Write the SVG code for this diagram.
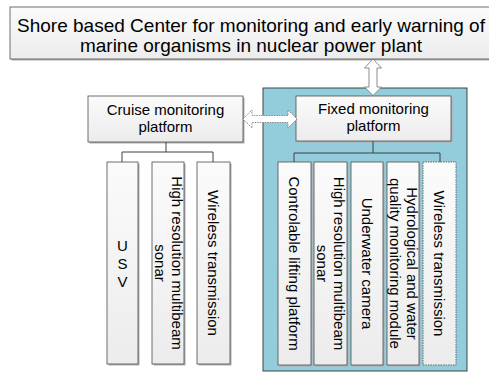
<svg xmlns="http://www.w3.org/2000/svg" width="489" height="372" viewBox="0 0 489 372">
<style>
text{font-family:"Liberation Sans",Arial,sans-serif;fill:#000}
.t19{font-size:19px}
.t15{font-size:15px}
.box{fill:url(#g);stroke:#4d4d4d;stroke-width:0.8}
.sh{fill:#b0b0b0}
.ln{stroke:#404040;stroke-width:1;fill:none}
.arr{fill:#fff;stroke:#6e6e6e;stroke-width:0.8}
</style>
<defs>
<linearGradient id="g" x1="0" y1="0" x2="0" y2="1">
<stop offset="0" stop-color="#fbfbfb"/>
<stop offset="1" stop-color="#ececec"/>
</linearGradient>
</defs>
<g id="container">
<rect x="263" y="88" width="204" height="283" fill="#93cddc" stroke="#333" stroke-width="0.9"/>
</g>
<g id="shore">
<rect class="sh" x="11.5" y="8.5" width="482" height="52"/>
<rect class="box" x="10" y="7" width="482" height="52"/>
<text class="t19" text-anchor="middle"><tspan x="251" y="32">Shore based Center for monitoring and early warning of</tspan><tspan x="251" y="52">marine organisms in nuclear power plant</tspan></text>
</g>
<g id="cruise">
<rect class="sh" x="89.5" y="97.5" width="155" height="46"/>
<rect class="box" x="88" y="96" width="155" height="46"/>
<text class="t15" text-anchor="middle"><tspan x="165.5" y="115">Cruise monitoring</tspan><tspan x="165.5" y="132">platform</tspan></text>
</g>
<g id="fixed">
<rect class="sh" x="297.5" y="97.5" width="155" height="45"/>
<rect class="box" x="296" y="96" width="155" height="45"/>
<text class="t15" text-anchor="middle"><tspan x="373.5" y="114">Fixed monitoring</tspan><tspan x="373.5" y="131">platform</tspan></text>
</g>
<g id="connectors">
<polygon class="arr" points="373,59 381.5,68 377,68 377,87 381.5,87 373,95.5 364.5,87 369,87 369,68 364.5,68"/>
<polygon class="arr" stroke-dasharray="1.5,1" points="243,119 252,110 252,115.5 288,115.5 288,110 297,119 288,128 288,122.5 252,122.5 252,128"/>
<path class="ln" d="M166,142V152M122,162V152H213V162"/>
<path class="ln" d="M373,141V153M294,162V153H440V162"/>
</g>
<g id="usv">
<rect class="sh" x="108.5" y="163.5" width="31" height="202"/>
<rect class="box" x="107" y="162" width="31" height="202"/>
<text class="t15" text-anchor="middle"><tspan x="122.5" y="250.5">U</tspan><tspan x="122.5" y="268.5">S</tspan><tspan x="122.5" y="286.5">V</tspan></text>
</g>
<g id="cruise-sonar">
<rect class="sh" x="153.5" y="163.5" width="32" height="202"/>
<rect class="box" x="152" y="162" width="32" height="202"/>
<text class="t15" text-anchor="middle" transform="translate(168,263) rotate(90)"><tspan x="0" y="-3.5">High resolution multibeam</tspan><tspan x="0" y="13.5">sonar</tspan></text>
</g>
<g id="cruise-wireless">
<rect class="sh" x="198.5" y="163.5" width="33" height="202"/>
<rect class="box" x="197" y="162" width="33" height="202"/>
<text class="t15" text-anchor="middle" transform="translate(213.5,263) rotate(90)" x="0" y="5.5">Wireless transmission</text>
</g>
<g id="lifting">
<rect class="sh" x="279.5" y="163.5" width="33" height="203"/>
<rect class="box" x="278" y="162" width="33" height="203"/>
<text class="t15" text-anchor="middle" transform="translate(294.5,263.5) rotate(90)" x="0" y="5.5">Controlable lifting platform</text>
</g>
<g id="fixed-sonar">
<rect class="sh" x="315.5" y="163.5" width="33" height="203"/>
<rect class="box" x="314" y="162" width="33" height="203"/>
<text class="t15" text-anchor="middle" transform="translate(330.5,263.5) rotate(90)"><tspan x="0" y="-3.5">High resolution multibeam</tspan><tspan x="0" y="13.5">sonar</tspan></text>
</g>
<g id="camera">
<rect class="sh" x="352.5" y="163.5" width="32" height="203"/>
<rect class="box" x="351" y="162" width="32" height="203"/>
<text class="t15" text-anchor="middle" transform="translate(367,263.5) rotate(90)" x="0" y="5.5">Underwater camera</text>
</g>
<g id="hydro">
<rect class="sh" x="388.5" y="163.5" width="32" height="203"/>
<rect class="box" x="387" y="162" width="32" height="203"/>
<text class="t15" text-anchor="middle" transform="translate(403,263.5) rotate(90)"><tspan x="0" y="-4">Hydrological and water</tspan><tspan x="0" y="13">quality monitoring module</tspan></text>
</g>
<g id="fixed-wireless">
<rect class="box" x="423" y="162" width="33" height="203" stroke-dasharray="1.5,1"/>
<text class="t15" text-anchor="middle" transform="translate(439.5,263.5) rotate(90)" x="0" y="5.5">Wireless transmission</text>
</g>
</svg>
